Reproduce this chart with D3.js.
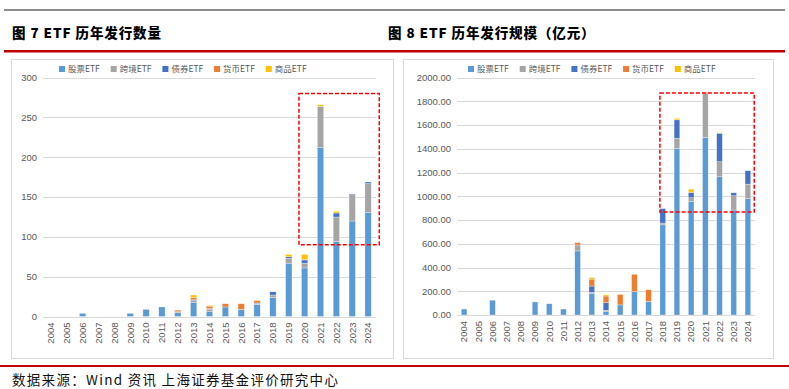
<!DOCTYPE html>
<html>
<head>
<meta charset="utf-8">
<script src="https://cdn.jsdelivr.net/npm/d3@7"></script>
<style>
  body { margin: 0; background: #fff; }
  svg { display: block; }
</style>
</head>
<body>
<script>
const w = 789;
const h = 389;

// categories and series
const years = ["2004","2005","2006","2007","2008","2009","2010","2011","2012","2013","2014",
               "2015","2016","2017","2018","2019","2020","2021","2022","2023","2024"];
const seriesNames = ["股票ETF", "跨境ETF", "债券ETF", "货币ETF", "商品ETF"];
const seriesColors = ["#5B9BD5", "#A5A5A5", "#4472C4", "#ED7D31", "#FFC000"];

// 图7 发行数量 (只)
const stockCount  = [0,0,4,0,0,4,9,12,5,18,6,12,9,15,24,67,61,212,94,120,131];
const crossCount  = [0,0,0,0,0,0,0,0,1,2,3,0,0,1,3,6,6,52,31,33,36];
const bondCount   = [0,0,0,0,0,0,0,0,0,1,1,0,0,1,4,2,4,0,5,1,2];
const moneyCount  = [0,0,0,0,0,0,0,0,2,3,3,4,7,3,0,0,1,0,0,0,0];
const commodCount = [0,0,0,0,0,0,0,0,0,3,1,0,0,0,0,3,6,2,2,0,0];
const countTicks  = [0,50,100,150,200,250,300];

// 图8 发行规模 (亿元)
const stockScale  = [50,0,125,0,0,110,95,50,540,180,28,85,198,115,760,1405,955,1495,1165,885,982];
const crossScale  = [0,0,0,0,0,0,0,0,50,11,12,0,0,0,15,85,33,372,127,120,121];
const bondScale   = [0,0,0,0,0,0,0,0,0,53,64,0,0,0,122,155,43,0,240,25,113];
const moneyScale  = [0,0,0,0,0,0,0,0,20,58,56,88,145,98,0,0,5,8,0,0,0];
const commodScale = [0,0,0,0,0,0,0,0,0,13,10,0,0,0,0,12,25,0,5,0,0];
const scaleTicks  = [0,200,400,600,800,1000,1200,1400,1600,1800,2000];

// highlighted ranges (red dashed boxes)
const countBox = { from: "2020", to: "2024", low: 90, high: 280 };
const scaleBox = { from: "2018", to: "2024", low: 868, high: 1871 };

const svg = d3.select("body")
  .append("svg")
  .attr("width", w)
  .attr("height", h);

// header rules and titles
svg.append("rect").attr("x", 4).attr("y", 9).attr("width", 781).attr("height", 2).attr("fill", "#8c8c8c");
svg.append("rect").attr("x", 4).attr("y", 50).attr("width", 781).attr("height", 2.5).attr("fill", "#c00000");
svg.append("rect").attr("x", 0).attr("y", 365).attr("width", 789).attr("height", 2).attr("fill", "#c00000");

svg.selectAll("text.title")
  .data([{x: 12, t: "图 7 ETF 历年发行数量"}, {x: 388, t: "图 8 ETF 历年发行规模（亿元）"}])
  .enter().append("text")
  .attr("class", "title")
  .attr("x", d => d.x)
  .attr("y", 38)
  .attr("font-family", "'Noto Sans CJK SC', sans-serif")
  .attr("font-weight", 900)
  .attr("font-size", 13.5)
  .attr("letter-spacing", 0.9)
  .attr("fill", "#000")
  .text(d => d.t);

svg.append("text")
  .attr("x", 12)
  .attr("y", 385)
  .attr("font-family", "'Noto Sans CJK SC', sans-serif")
  .attr("font-size", 13.5)
  .attr("letter-spacing", 1.3)
  .attr("fill", "#111")
  .text("数据来源：Wind 资讯 上海证券基金评价研究中心");

const drawPanel = (o) => {
  // panel frame
  svg.append("rect")
    .attr("x", o.frame[0] + 0.5).attr("y", o.frame[1] + 0.5)
    .attr("width", o.frame[2]).attr("height", o.frame[3])
    .attr("fill", "#fff").attr("stroke", "#d9d9d9");

  const x = d3.scaleBand().domain(years).range([o.left, o.right]).paddingInner(0.6).paddingOuter(0.3);
  const y = d3.scaleLinear().domain([0, o.ticks[o.ticks.length - 1]]).range([o.zero, o.top]);

  // gridlines
  svg.append("g")
    .selectAll("line")
    .data(o.ticks)
    .enter().append("line")
    .attr("x1", o.left).attr("x2", o.right)
    .attr("y1", d => Math.round(y(d)) + 0.5).attr("y2", d => Math.round(y(d)) + 0.5)
    .attr("stroke", "#d9d9d9");

  // y labels
  svg.append("g")
    .selectAll("text")
    .data(o.ticks)
    .enter().append("text")
    .attr("x", o.left - 6)
    .attr("y", d => y(d))
    .attr("dy", "0.35em")
    .attr("text-anchor", "end")
    .attr("font-family", "'Liberation Sans', Arial, sans-serif")
    .attr("font-size", 9.5)
    .attr("fill", "#595959")
    .text(o.fmt);

  // x labels, rotated
  svg.append("g")
    .selectAll("text")
    .data(years)
    .enter().append("text")
    .attr("transform", d => `translate(${x(d) + x.bandwidth() / 2},${o.zero + 6}) rotate(-90)`)
    .attr("text-anchor", "end")
    .attr("dy", "0.35em")
    .attr("font-family", "'Liberation Sans', Arial, sans-serif")
    .attr("font-size", 9.5)
    .attr("fill", "#595959")
    .text(d => d);

  // stacked bars
  const rows = years.map((yr, i) => {
    let r = { year: yr };
    seriesNames.forEach((s, k) => { r[s] = o.series[k][i]; });
    return r;
  });
  const stacked = d3.stack().keys(seriesNames)(rows);

  svg.append("g")
    .selectAll("g")
    .data(stacked)
    .enter().append("g")
    .attr("fill", (d, k) => seriesColors[k])
    .selectAll("rect")
    .data(d => d.filter(p => p[1] - p[0] > 0))
    .enter().append("rect")
    .attr("x", d => x(d.data.year))
    .attr("width", x.bandwidth())
    .attr("y", d => y(d[1]))
    .attr("height", d => y(d[0]) - y(d[1]))
    .attr("stroke", "#fff")
    .attr("stroke-opacity", 0.6)
    .attr("stroke-width", 0.5);

  // legend
  const leg = svg.append("g")
    .selectAll("g")
    .data(seriesNames)
    .enter().append("g")
    .attr("transform", (d, i) => `translate(${o.legendX + i * o.legendStep},${o.legendY})`);
  leg.append("rect")
    .attr("x", 0).attr("y", -3).attr("width", 6).attr("height", 6)
    .attr("fill", (d, i) => seriesColors[i]);
  leg.append("text")
    .attr("x", 9).attr("y", 0).attr("dy", "0.35em")
    .attr("font-family", "'Noto Sans CJK SC', sans-serif")
    .attr("font-size", 8.5)
    .attr("fill", "#595959")
    .text(d => d);

  // red dashed highlight
  const b = o.box;
  svg.append("rect")
    .attr("x", x(b.from) - o.boxPad[0])
    .attr("y", y(b.high))
    .attr("width", x(b.to) + x.bandwidth() + o.boxPad[1] - (x(b.from) - o.boxPad[0]))
    .attr("height", y(b.low) - y(b.high))
    .attr("fill", "none")
    .attr("stroke", "#ff0000")
    .attr("stroke-width", 1.5)
    .attr("stroke-dasharray", "4,2");
};

drawPanel({
  frame: [11, 59, 382, 299],
  left: 43, right: 376, top: 77.7, zero: 316.5,
  ticks: countTicks,
  fmt: d => d,
  series: [stockCount, crossCount, bondCount, moneyCount, commodCount],
  legendX: 59, legendY: 69, legendStep: 51.7,
  box: countBox, boxPad: [2.5, 8]
});

drawPanel({
  frame: [403, 59, 370, 299],
  left: 457, right: 755, top: 77.7, zero: 315,
  ticks: scaleTicks,
  fmt: d => d3.format(".2f")(d),
  series: [stockScale, crossScale, bondScale, moneyScale, commodScale],
  legendX: 468, legendY: 69, legendStep: 51.7,
  box: scaleBox, boxPad: [0, 3.5]
});
</script>
</body>
</html>
